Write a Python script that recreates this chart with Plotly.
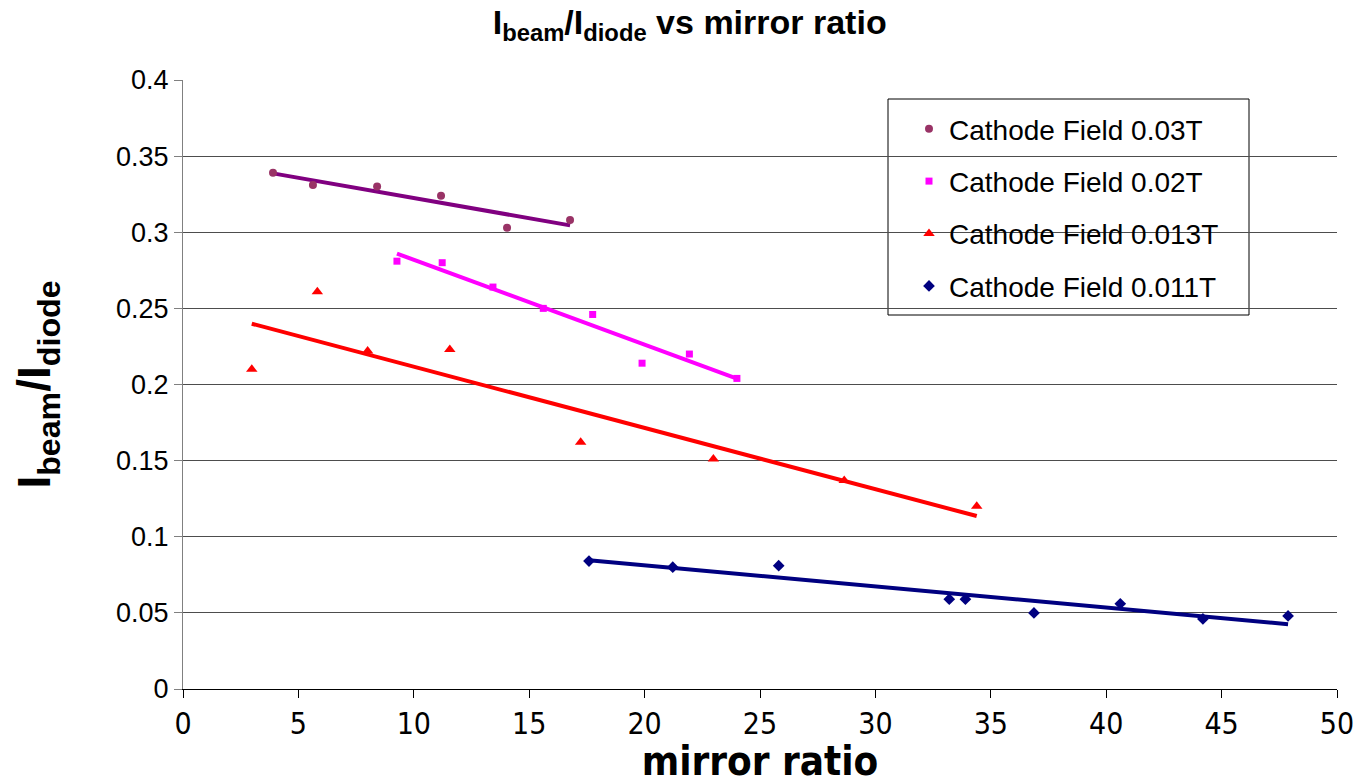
import numpy as np
import plotly.graph_objects as go

# Mirror ratio (x) and I_beam/I_diode (y) for each cathode field setting
x_030 = [3.90, 5.63, 8.41, 11.18, 14.04, 16.77]
y_030 = [0.339, 0.331, 0.330, 0.324, 0.303, 0.308]

x_020 = [9.27, 11.23, 13.43, 15.61, 17.75, 19.89, 21.94, 24.00]
y_020 = [0.281, 0.280, 0.264, 0.250, 0.246, 0.214, 0.220, 0.204]

x_013 = [2.98, 5.82, 8.00, 11.56, 17.23, 22.98, 28.65, 34.39]
y_013 = [0.210, 0.261, 0.222, 0.223, 0.162, 0.151, 0.137, 0.120]

x_011 = [17.59, 21.22, 25.81, 33.20, 33.90, 36.87, 40.61, 44.19, 47.88]
y_011 = [0.084, 0.080, 0.081, 0.059, 0.059, 0.050, 0.056, 0.046, 0.048]

series_names = ["Cathode Field 0.03T", "Cathode Field 0.02T",
                "Cathode Field 0.013T", "Cathode Field 0.011T"]

x_ticks = [0, 5, 10, 15, 20, 25, 30, 35, 40, 45, 50]
y_ticks = [0, 0.05, 0.1, 0.15, 0.2, 0.25, 0.3, 0.35, 0.4]

FONT = "Liberation Sans, Arial, sans-serif"
NARROW = "Liberation Sans Narrow, Arial Narrow, DejaVu Sans Condensed, Arial, sans-serif"

styles = [
    dict(symbol="circle", size=8, mcolor="#993366", lcolor="#800080"),
    dict(symbol="square", size=7, mcolor="#FF00FF", lcolor="#FF00FF"),
    dict(symbol="triangle-up", size=10, mcolor="#FF0000", lcolor="#FF0000"),
    dict(symbol="diamond", size=9, mcolor="#000080", lcolor="#000080"),
]

data = [(x_030, y_030), (x_020, y_020), (x_013, y_013), (x_011, y_011)]

fig = go.Figure()

# Linear trend lines (least-squares fit of each series)
for (xs, ys), st, name in zip(data, styles, series_names):
    xa = np.array(xs)
    slope, icpt = np.polyfit(xa, np.array(ys), 1)
    xl = np.array([xa.min(), xa.max()])
    fig.add_trace(go.Scatter(
        x=xl, y=slope * xl + icpt, mode="lines",
        line=dict(color=st["lcolor"], width=4),
        showlegend=False, hoverinfo="skip", legendgroup=name,
    ))

# Measured points
for (xs, ys), st, name in zip(data, styles, series_names):
    fig.add_trace(go.Scatter(
        x=xs, y=ys, mode="markers", name=name, legendgroup=name,
        marker=dict(symbol=st["symbol"], size=st["size"], color=st["mcolor"],
                    line=dict(width=0)),
    ))

# Legend frame
fig.add_shape(type="rect", xref="paper", yref="paper",
              x0=(888 - 183) / 1154, x1=(1249 - 183) / 1154,
              y0=(689 - 315) / 609, y1=(689 - 99) / 609,
              fillcolor="white", line=dict(color="black", width=1),
              layer="between")

fig.update_layout(
    width=1363, height=784,
    margin=dict(l=183, r=26, t=80, b=95, autoexpand=False),
    paper_bgcolor="white", plot_bgcolor="white",
    font=dict(family=FONT, color="black"),
    title=dict(
        text="<b>I<sub>beam</sub>/I<sub>diode</sub> vs mirror ratio</b>",
        font=dict(size=34, family=FONT),
        x=0.506, xanchor="center", y=0.972, yanchor="middle",
    ),
    xaxis=dict(
        range=[0, 50], tickvals=x_ticks, ticktext=[str(v) for v in x_ticks],
        ticks="outside", ticklen=8, tickcolor="black",
        showline=True, linecolor="black", linewidth=1,
        showgrid=False, zeroline=False, automargin=False,
        tickfont=dict(size=30, family=NARROW),
        title=dict(text="<b>mirror ratio</b>", font=dict(size=40, family=NARROW),
                   standoff=14),
    ),
    yaxis=dict(
        range=[0, 0.4], tickvals=y_ticks,
        ticktext=["0", "0.05", "0.1", "0.15", "0.2", "0.25", "0.3", "0.35", "0.4"],
        ticks="outside", ticklen=8, tickcolor="#808080",
        showline=True, linecolor="#808080", linewidth=1,
        showgrid=True, gridcolor="#4d4d4d", gridwidth=1, zeroline=False,
        automargin=False,
        tickfont=dict(size=27, family=FONT),
        title=dict(text="<b>I<sub>beam</sub>/I<sub>diode</sub></b>",
                   font=dict(size=46, family=FONT), standoff=50),
    ),
    legend=dict(
        x=(909 - 183) / 1154, y=(689 - 104) / 609, xanchor="left", yanchor="top",
        bgcolor="rgba(0,0,0,0)", borderwidth=0,
        font=dict(size=28, family=FONT),
        traceorder="grouped", tracegroupgap=13,
    ),
)

fig.write_html("out.html")
